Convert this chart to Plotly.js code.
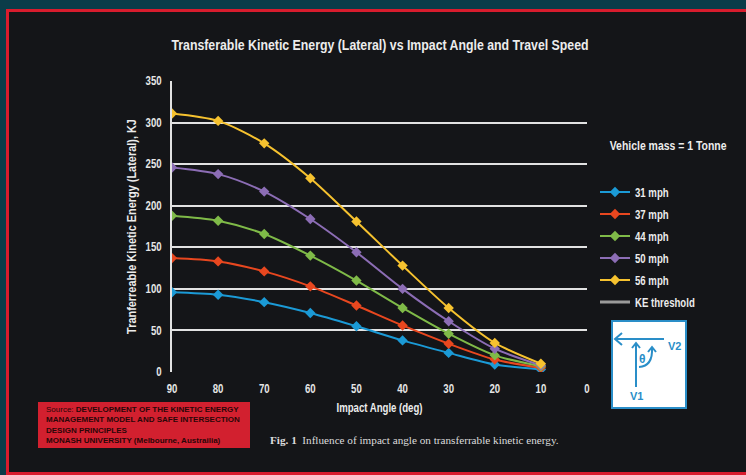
<!DOCTYPE html>
<html>
<head>
<meta charset="utf-8">
<script src="https://cdn.plot.ly/plotly-3.0.1.min.js"></script>
<style>
html,body{margin:0;padding:0;background:#0b3c49;}
#chart{width:746px;height:475px;}
</style>
</head>
<body>
<div id="chart"></div>
<script>
// ---- data ----
const angles = [90, 80, 70, 60, 50, 40, 30, 20, 10];
const xTicks = [90, 80, 70, 60, 50, 40, 30, 20, 10, 0];
const seriesNames = ["31 mph", "37 mph", "44 mph", "50 mph", "56 mph"];
const ke31 = [96, 93, 84, 71, 55, 38, 23, 9, 3];
const ke37 = [137, 133, 121, 103, 80, 56, 34, 15, 5];
const ke44 = [188, 182, 166, 140, 110, 77, 46, 20, 7];
const ke50 = [246, 238, 217, 184, 144, 100, 61, 28, 8];
const ke56 = [311, 302, 275, 233, 181, 128, 77, 35, 10];
const thresholdName = "KE threshold";

const colors = ["#1b9ad6", "#e8471f", "#7fba48", "#8c6db5", "#f6c22f"];
const seriesValues = [ke31, ke37, ke44, ke50, ke56];

// pixel -> paper helpers (plot area: x 172..587, y 81..372)
const L = 172, R = 587, T = 81, B = 372;
const px = x => (x - L) / (R - L);
const py = y => (B - y) / (B - T);

const FONT = "'Liberation Sans', Arial, sans-serif";

const traces = seriesValues.map((vals, i) => ({
  type: "scatter",
  mode: "lines+markers",
  name: seriesNames[i],
  x: angles,
  y: vals,
  line: {color: colors[i], width: 2, shape: "spline", smoothing: 0.8},
  marker: {symbol: "diamond", size: 8, color: colors[i]},
  legendgroup: "g" + i
}));
traces.push({
  type: "scatter",
  mode: "lines",
  name: thresholdName,
  x: [null],
  y: [null],
  line: {color: "#9a9a9a", width: 3},
  legendgroup: "g5"
});

const blue = "#2a8ec8";
const shapes = [
  {type: "rect", xref: "paper", yref: "paper", layer: "below",
   x0: px(7.5), x1: px(760), y0: py(473.5), y1: py(10.5),
   fillcolor: "#141518", line: {color: "#d81c2d", width: 3}},
  {type: "rect", xref: "paper", yref: "paper",
   x0: px(38), x1: px(250), y0: py(448), y1: py(402),
   fillcolor: "#d2202f", line: {width: 0}},
  {type: "rect", xref: "paper", yref: "paper",
   x0: px(612), x1: px(686), y0: py(408), y1: py(321),
   fillcolor: "#ffffff", line: {color: blue, width: 2}},
  {type: "line", xref: "paper", yref: "paper",
   x0: px(615), x1: px(664), y0: py(339), y1: py(339), line: {color: blue, width: 2}},
  {type: "path", xref: "paper", yref: "paper",
   path: `M ${px(622)} ${py(333)} L ${px(615)} ${py(339)} L ${px(622)} ${py(345)}`,
   line: {color: blue, width: 2}},
  {type: "line", xref: "paper", yref: "paper",
   x0: px(636), x1: px(636), y0: py(387), y1: py(343), line: {color: blue, width: 2}},
  {type: "path", xref: "paper", yref: "paper",
   path: `M ${px(632)} ${py(348)} L ${px(636)} ${py(343)} L ${px(640)} ${py(348)}`,
   line: {color: blue, width: 2}},
  {type: "path", xref: "paper", yref: "paper",
   path: `M ${px(639)} ${py(367)} Q ${px(653)} ${py(366)} ${px(652)} ${py(348)}`,
   line: {color: blue, width: 2}},
  {type: "path", xref: "paper", yref: "paper",
   path: `M ${px(648)} ${py(352)} L ${px(652)} ${py(347)} L ${px(656)} ${py(352)}`,
   line: {color: blue, width: 2}}
];

const annotations = [
  {text: "Vehicle mass = 1 Tonne", xref: "paper", yref: "paper", x: px(668), y: py(146),
   xanchor: "center", yanchor: "middle", showarrow: false,
   font: {family: FONT, size: 12, color: "#ececec", weight: "bold"}},
  {text: "<span style='font-weight:normal'>Source:</span> DEVELOPMENT OF THE KINETIC ENERGY<br>MANAGEMENT MODEL AND SAFE INTERSECTION<br>DESIGN PRINCIPLES<br>MONASH UNIVERSITY (Melbourne, Austrailia)",
   xref: "paper", yref: "paper", x: px(44), y: py(403), xanchor: "left", yanchor: "top",
   align: "left", showarrow: false,
   font: {family: FONT, size: 8, color: "#2a0608", weight: "bold"}},
  {text: "<b>Fig. 1</b>  Influence of impact angle on transferrable kinetic energy.",
   xref: "paper", yref: "paper", x: px(268), y: py(440), xanchor: "left", yanchor: "middle",
   showarrow: false,
   font: {family: "'Liberation Serif', 'DejaVu Serif', serif", size: 11.2, color: "#dcdcdc"}},
  {text: "V2", xref: "paper", yref: "paper", x: px(674), y: py(346), xanchor: "center", yanchor: "middle",
   showarrow: false,
   font: {family: FONT, size: 11, color: blue, weight: "bold"}},
  {text: "V1", xref: "paper", yref: "paper", x: px(636), y: py(396), xanchor: "center", yanchor: "middle",
   showarrow: false,
   font: {family: FONT, size: 11, color: blue, weight: "bold"}},
  {text: "θ", xref: "paper", yref: "paper", x: px(642), y: py(359), xanchor: "center", yanchor: "middle",
   showarrow: false,
   font: {family: FONT, size: 12, color: blue, weight: "bold"}}
];

const layout = {
  width: 746, height: 475,
  margin: {l: L, r: 746 - R, t: T, b: 475 - B, pad: 0},
  paper_bgcolor: "#0b3c49",
  plot_bgcolor: "rgba(0,0,0,0)",
  title: {text: "Transferable Kinetic Energy (Lateral) vs Impact Angle and Travel Speed",
          x: 380 / 746, xanchor: "center", y: 1 - 45 / 475, yanchor: "middle",
          font: {family: FONT, size: 14, color: "#ececec", weight: "bold"}},
  xaxis: {range: [90, 0], autorange: false, tickvals: xTicks, ticktext: xTicks.map(String),
          showgrid: false, zeroline: false, showline: false, ticks: "",
          ticklabelstandoff: 8,
          tickfont: {family: FONT, size: 12, color: "#e6e6e6", weight: "bold"},
          title: {text: "Impact Angle (deg)", standoff: 8,
                  font: {family: FONT, size: 12, color: "#ececec", weight: "bold"}}},
  yaxis: {range: [0, 350], autorange: false, dtick: 50, tick0: 0,
          showgrid: true, gridcolor: "#e2e2e2", gridwidth: 2,
          zeroline: false, showline: true, linecolor: "#e2e2e2", linewidth: 2,
          ticks: "", ticklabelstandoff: 6,
          tickfont: {family: FONT, size: 12, color: "#e6e6e6", weight: "bold"},
          title: {text: "Tranferreable Kinetic Energy (Lateral), KJ", standoff: 2,
                  font: {family: FONT, size: 13, color: "#ececec", weight: "bold"}}},
  legend: {x: px(595), y: py(177.5), xanchor: "left", yanchor: "top",
           bgcolor: "rgba(0,0,0,0)", borderwidth: 0, tracegroupgap: 3,
           itemwidth: 30,
           font: {family: FONT, size: 12, color: "#ececec", weight: "bold"}},
  showlegend: true,
  shapes: shapes,
  annotations: annotations
};

// narrow the bold sans texts (the reference uses a condensed face)
function condense(el, f) {
  const w = el.getComputedTextLength();
  if (w > 0) {
    el.setAttribute("textLength", (w * f).toFixed(2));
    el.setAttribute("lengthAdjust", "spacingAndGlyphs");
  }
}

Plotly.newPlot("chart", traces, layout, {displayModeBar: false, staticPlot: true}).then(gd => {
  gd.querySelectorAll("text.gtitle").forEach(el => condense(el, 0.88));
  gd.querySelectorAll(".xtick text, .ytick text, text.xtitle, text.legendtext")
    .forEach(el => condense(el, 0.8));
  gd.querySelectorAll("text.ytitle").forEach(el => condense(el, 0.84));
  const ann = gd.querySelectorAll(".annotation text.annotation-text");
  if (ann[0]) condense(ann[0], 0.87);
});
</script>
</body>
</html>
